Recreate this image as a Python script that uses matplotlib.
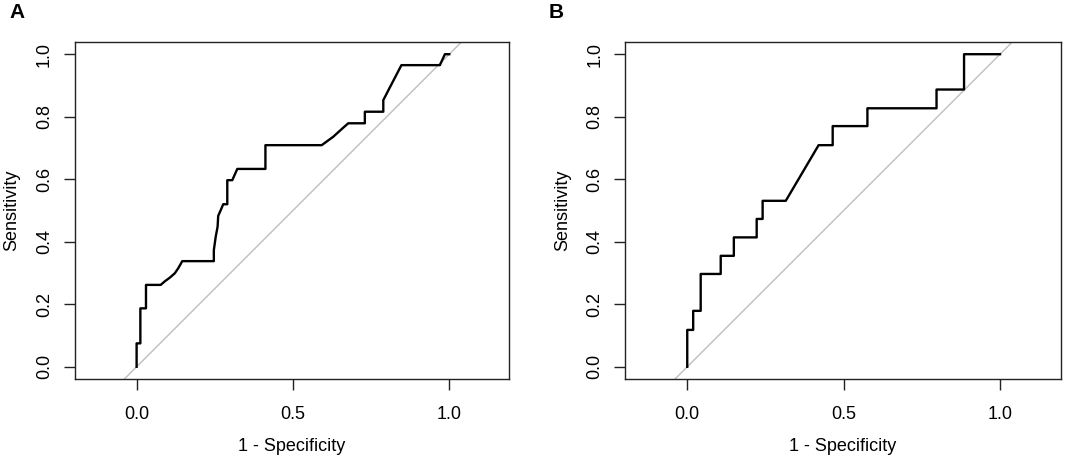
import matplotlib
matplotlib.use("Agg")
import matplotlib.pyplot as plt

plt.rcParams['font.family'] = ['Liberation Sans', 'DejaVu Sans']

# ---- data (1 - specificity, sensitivity) ----
fpr_a = [0.0, 0.0, 0.012, 0.012, 0.030, 0.030, 0.077, 0.091, 0.106, 0.122, 0.133, 0.146,
         0.247, 0.247, 0.253, 0.259, 0.261, 0.269, 0.277, 0.290, 0.290, 0.306, 0.322,
         0.412, 0.412, 0.592, 0.629, 0.661, 0.677, 0.730, 0.730, 0.789, 0.789, 0.808,
         0.847, 0.970, 0.986, 1.0]
tpr_a = [0.0, 0.075, 0.075, 0.187, 0.187, 0.262, 0.262, 0.274, 0.285, 0.299, 0.315, 0.338,
         0.338, 0.373, 0.416, 0.448, 0.483, 0.501, 0.520, 0.520, 0.597, 0.597, 0.633,
         0.633, 0.709, 0.709, 0.736, 0.765, 0.779, 0.779, 0.816, 0.816, 0.853, 0.890,
         0.965, 0.965, 1.0, 1.0]

fpr_b = [0.0, 0.0, 0.019, 0.019, 0.043, 0.043, 0.107, 0.107, 0.149, 0.149, 0.222, 0.222,
         0.241, 0.241, 0.315, 0.420, 0.465, 0.465, 0.576, 0.576, 0.797, 0.797, 0.885,
         0.885, 1.0]
tpr_b = [0.0, 0.118, 0.118, 0.179, 0.179, 0.297, 0.297, 0.355, 0.355, 0.414, 0.414, 0.473,
         0.473, 0.531, 0.531, 0.709, 0.709, 0.770, 0.770, 0.827, 0.827, 0.887, 0.887,
         1.0, 1.0]

x_ticks = [0.0, 0.5, 1.0]
x_tick_labels = ["0.0", "0.5", "1.0"]
y_ticks = [0.0, 0.2, 0.4, 0.6, 0.8, 1.0]
y_tick_labels = ["0.0", "0.2", "0.4", "0.6", "0.8", "1.0"]
panel_letters = ["A", "B"]
x_title = "1 - Specificity"
y_title = "Sensitivity"

W, H = 1065, 459
fig = plt.figure(figsize=(W / 100, H / 100), dpi=100)


def panel(left_px, right_px, fpr, tpr, letter, letter_x_px, xlim):
    top_px, bottom_px = 41.7, 379.3
    rect = [left_px / W, (H - bottom_px) / H, (right_px - left_px) / W, (bottom_px - top_px) / H]
    ax = fig.add_axes(rect)
    ax.axline((0, 0), (1, 1), color='#BEBEBE', lw=1.0, zorder=1)
    ax.plot(fpr, tpr, color='black', lw=1.7, zorder=2)
    ax.set_xlim(*xlim)
    ax.set_ylim(-0.04, 1.04)
    ax.set_xticks(x_ticks)
    ax.set_xticklabels(x_tick_labels)
    ax.set_yticks(y_ticks)
    ax.set_yticklabels(y_tick_labels)
    ax.tick_params(direction='out', length=7.7, width=1.0, labelsize=13, color='#222222')
    ax.tick_params(axis='x', pad=11.3)
    ax.tick_params(axis='y', pad=8.0, labelrotation=90)
    for lab in ax.get_yticklabels():
        lab.set_va('center')
    for s in ax.spines.values():
        s.set_linewidth(1.0)
        s.set_color('#222222')
    ax.set_xlabel(x_title, fontsize=13, va='baseline')
    ax.set_ylabel(y_title, fontsize=13, va='baseline')
    ax_w = right_px - left_px
    ax_h = bottom_px - top_px
    ax.xaxis.set_label_coords(0.5, -71.5 / ax_h)
    ax.yaxis.set_label_coords(-58.2 / ax_w, 0.5)
    fig.text(letter_x_px / W, 1 - 12.8 / H, letter, fontsize=15, fontweight='bold',
             ha='center', va='center')
    return ax


panel(74.7, 509.3, fpr_a, tpr_a, panel_letters[0], 17.5, (-0.198, 1.192))
panel(625.0, 1060.7, fpr_b, tpr_b, panel_letters[1], 556.0, (-0.199, 1.194))

fig.savefig("out.png", dpi=100)
